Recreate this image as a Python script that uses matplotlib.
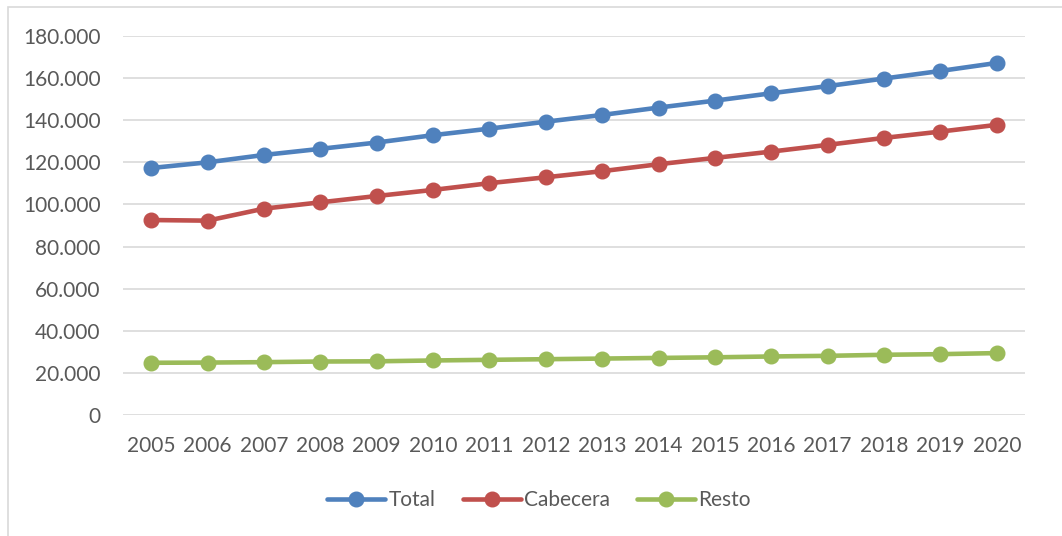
import matplotlib
matplotlib.use("Agg")
import matplotlib.pyplot as plt
from matplotlib.ticker import FuncFormatter
from matplotlib.patches import Rectangle

years = [str(y) for y in range(2005, 2021)]
total = [117300, 120000, 123500, 126400, 129400, 132900, 136000, 139300,
         142500, 146000, 149300, 152800, 156200, 159800, 163400, 167200]
cabecera = [92600, 92300, 98000, 101000, 104000, 106900, 110100, 112900,
            115800, 119100, 122100, 125100, 128300, 131600, 134600, 137800]
resto = [24800, 24900, 25100, 25400, 25500, 25900, 26200, 26500,
         26800, 27100, 27400, 27800, 28100, 28600, 28900, 29400]
series_names = ["Total", "Cabecera", "Resto"]
colors = ["#4F81BD", "#C0504D", "#9BBB59"]
yticks = list(range(0, 180001, 20000))

plt.rcParams['font.family'] = ['Lato', 'DejaVu Sans']
W, H = 1062, 536
fig = plt.figure(figsize=(W / 100, H / 100), dpi=100)
fig.patches.append(Rectangle((8 / W, -0.1), 1.2, 1 - 7 / H + 0.1, transform=fig.transFigure,
                             fill=False, edgecolor="#D9D9D9", linewidth=1.2))
ax = fig.add_axes([123 / W, 1 - 415 / H, (1025 - 123) / W, (415 - 36) / H])

x = list(range(len(years)))
for vals, name, c in zip([total, cabecera, resto], series_names, colors):
    ax.plot(x, vals, color=c, linewidth=3.3, marker='o', markersize=10.5,
            label=name, solid_capstyle='round')

ax.set_xlim(-0.5, len(years) - 0.5)
ax.set_ylim(0, 180000)
ax.set_yticks(yticks)
ax.yaxis.set_major_formatter(FuncFormatter(lambda v, p: f"{int(v):,}".replace(",", ".")))
ax.set_xticks(x)
ax.set_xticklabels(years)
ax.grid(axis='y', color="#D9D9D9", linewidth=1.2)
ax.set_axisbelow(True)
for s in ax.spines.values():
    s.set_visible(False)
ax.tick_params(axis='both', length=0, labelsize=15, colors="#595959")
ax.tick_params(axis='y', pad=16)
ax.tick_params(axis='x', pad=15)

leg = fig.legend(loc='center', bbox_to_anchor=(539 / W, 1 - 500 / H), ncol=3,
                 frameon=False, fontsize=15, handlelength=2.8, handletextpad=0.15,
                 columnspacing=1.3)
for t in leg.get_texts():
    t.set_color("#595959")

fig.savefig("out.png", dpi=100)
